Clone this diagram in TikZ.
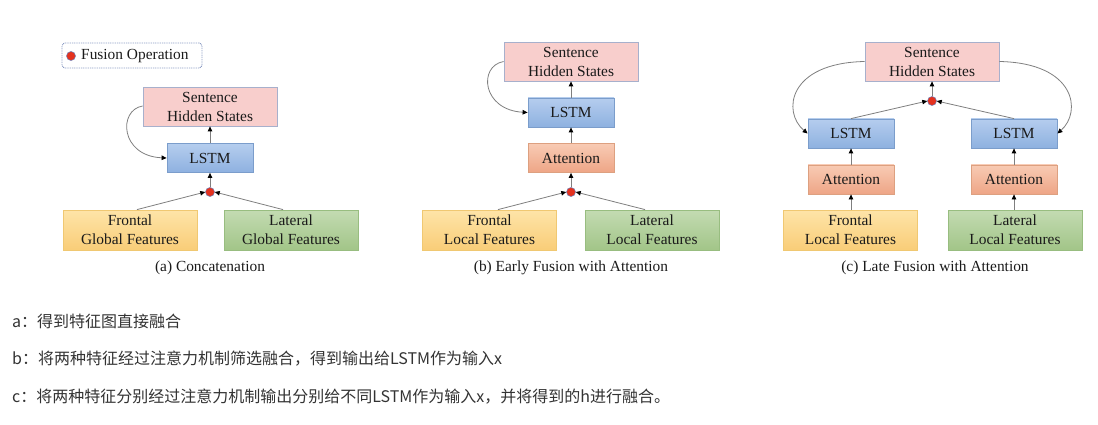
\documentclass[tikz,border=0pt]{standalone}
\usepackage{fontspec}
\setmainfont{Liberation Serif}
\newfontfamily\cjk{Noto Sans CJK SC}
\usetikzlibrary{arrows.meta}
\definecolor{pinkF}{HTML}{F8CECC}
\definecolor{pinkD}{HTML}{A7B0CC}
\definecolor{blueT}{HTML}{B5CDEE}
\definecolor{blueB}{HTML}{8EB1E0}
\definecolor{blueD}{HTML}{7B9DCB}
\definecolor{orT}{HTML}{F8CBB4}
\definecolor{orB}{HTML}{EEA586}
\definecolor{orD}{HTML}{DDA080}
\definecolor{yeT}{HTML}{FEE4A8}
\definecolor{yeB}{HTML}{F9CD78}
\definecolor{yeD}{HTML}{F0C872}
\definecolor{grT}{HTML}{C3DBB2}
\definecolor{grB}{HTML}{A2C588}
\definecolor{grD}{HTML}{98BD80}
\definecolor{lineC}{HTML}{7F7F7F}
\definecolor{dotR}{HTML}{E4321F}
\definecolor{dotD}{HTML}{6C7DB8}
\definecolor{legD}{HTML}{8C9CC4}
\definecolor{txt}{HTML}{1A1A1A}
\definecolor{cjkC}{HTML}{333333}
\tikzset{
  base/.style={rectangle, align=center, inner sep=0pt, text=txt,
    font=\fontsize{15.4}{19}\selectfont, line width=0.8pt},
  sentbox/.style={base, fill=pinkF, draw=pinkD, minimum width=134pt, minimum height=39pt},
  lstmbox/.style={base, top color=blueT, bottom color=blueB, draw=blueD, minimum width=86pt, minimum height=29pt},
  attbox/.style={base, top color=orT, bottom color=orB, draw=orD, minimum width=86pt, minimum height=29pt},
  frbox/.style={base, top color=yeT, bottom color=yeB, draw=yeD, minimum width=134pt, minimum height=40pt},
  labox/.style={base, top color=grT, bottom color=grB, draw=grD, minimum width=134pt, minimum height=40pt},
  fdot/.style={circle, fill=dotR, draw=dotD, line width=0.5pt, minimum size=9pt, inner sep=0pt},
  conn/.style={draw=lineC, line width=0.8pt, -{Triangle[length=5pt,width=4.5pt,fill=black,color=black]}},
  captext/.style={text=txt, font=\fontsize{15.4}{18.5}\selectfont, inner sep=0pt},
  cjkline/.style={anchor=west, text=cjkC, font=\cjk\fontsize{16}{19}\selectfont, inner sep=0pt}
}
\begin{document}
\begin{tikzpicture}[x=1pt,y=-1pt]
\useasboundingbox (0,0) rectangle (1098,425);
% legend
\node[draw=legD, dash pattern=on 1pt off 0.8pt, rounded corners=3pt, line width=0.9pt, minimum width=140pt, minimum height=25pt, inner sep=0pt] (leg) at (132,55.5) {};
\node[fdot] (legdot) at (71,56) {};
\node[captext, anchor=west] (legtxt) at (81,56.5) {Fusion Operation};
% panel a
\node[sentbox] (Sa) at (210,106.5) {Sentence\\Hidden States};
\node[lstmbox] (La) at (210,158) {LSTM};
\node[fdot] (Da) at (210,192) {};
\node[frbox] (Fa) at (130,230) {Frontal\\Global Features};
\node[labox] (Ga) at (291,230) {Lateral\\Global Features};
\node[captext] (Ca) at (210,268) {(a) Concatenation};
\draw[conn] (Fa.north -| 137,0) -- (Da.west);
\draw[conn] (Ga.north -| 283,0) -- (Da.east);
\draw[conn] (Da.north) -- (La.south);
\draw[conn] (La.north) -- (Sa.south);
\draw[conn] ([yshift=0.5pt]Sa.west) .. controls (118,110) and (120,156) .. (La.west);
% panel b
\node[sentbox] (Sb) at (571,61.5) {Sentence\\Hidden States};
\node[lstmbox] (Lb) at (571,112.5) {LSTM};
\node[attbox] (Ab) at (571,158) {Attention};
\node[fdot] (Db) at (571,192) {};
\node[frbox] (Fb) at (489.5,230) {Frontal\\Local Features};
\node[labox] (Gb) at (652,230) {Lateral\\Local Features};
\node[captext] (Cb) at (571,268) {(b) Early Fusion with Attention};
\draw[conn] (Fb.north -| 498,0) -- (Db.west);
\draw[conn] (Gb.north -| 645,0) -- (Db.east);
\draw[conn] (Db.north) -- (Ab.south);
\draw[conn] (Ab.north) -- (Lb.south);
\draw[conn] (Lb.north) -- (Sb.south);
\draw[conn] (Sb.west) .. controls (478,66) and (482,110) .. (Lb.west);
% panel c
\node[sentbox] (Sc) at (932,61.5) {Sentence\\Hidden States};
\node[fdot] (Dc) at (932,101) {};
\node[lstmbox] (LcL) at (851,133.5) {LSTM};
\node[lstmbox] (LcR) at (1014,133.5) {LSTM};
\node[attbox] (AcL) at (851,179.5) {Attention};
\node[attbox] (AcR) at (1014,179.5) {Attention};
\node[frbox] (FcL) at (850.5,230) {Frontal\\Local Features};
\node[labox] (FcR) at (1015,230) {Lateral\\Local Features};
\node[captext] (Cc) at (935,268) {(c) Late Fusion with Attention};
\draw[conn] (FcL.north -| AcL.south) -- (AcL.south);
\draw[conn] (FcR.north -| AcR.south) -- (AcR.south);
\draw[conn] (AcL.north) -- (LcL.south);
\draw[conn] (AcR.north) -- (LcR.south);
\draw[conn] (LcL.north) -- (Dc.west);
\draw[conn] (LcR.north) -- (Dc.east);
\draw[conn] (Dc.north) -- (Sc.south);
\draw[conn] (Sc.west) .. controls (788,63) and (782,112) .. (LcL.west);
\draw[conn] (Sc.east) .. controls (1076,63) and (1082,112) .. (LcR.east);
% text lines
\node[cjkline] (ta) at (12,321) {a：得到特征图直接融合};
\node[cjkline] (tb) at (12,359) {b：将两种特征经过注意力机制筛选融合，得到输出给LSTM作为输入x};
\node[cjkline] (tc) at (12,397) {c：将两种特征分别经过注意力机制输出分别给不同LSTM作为输入x，并将得到的h进行融合。};
\end{tikzpicture}
\end{document}
